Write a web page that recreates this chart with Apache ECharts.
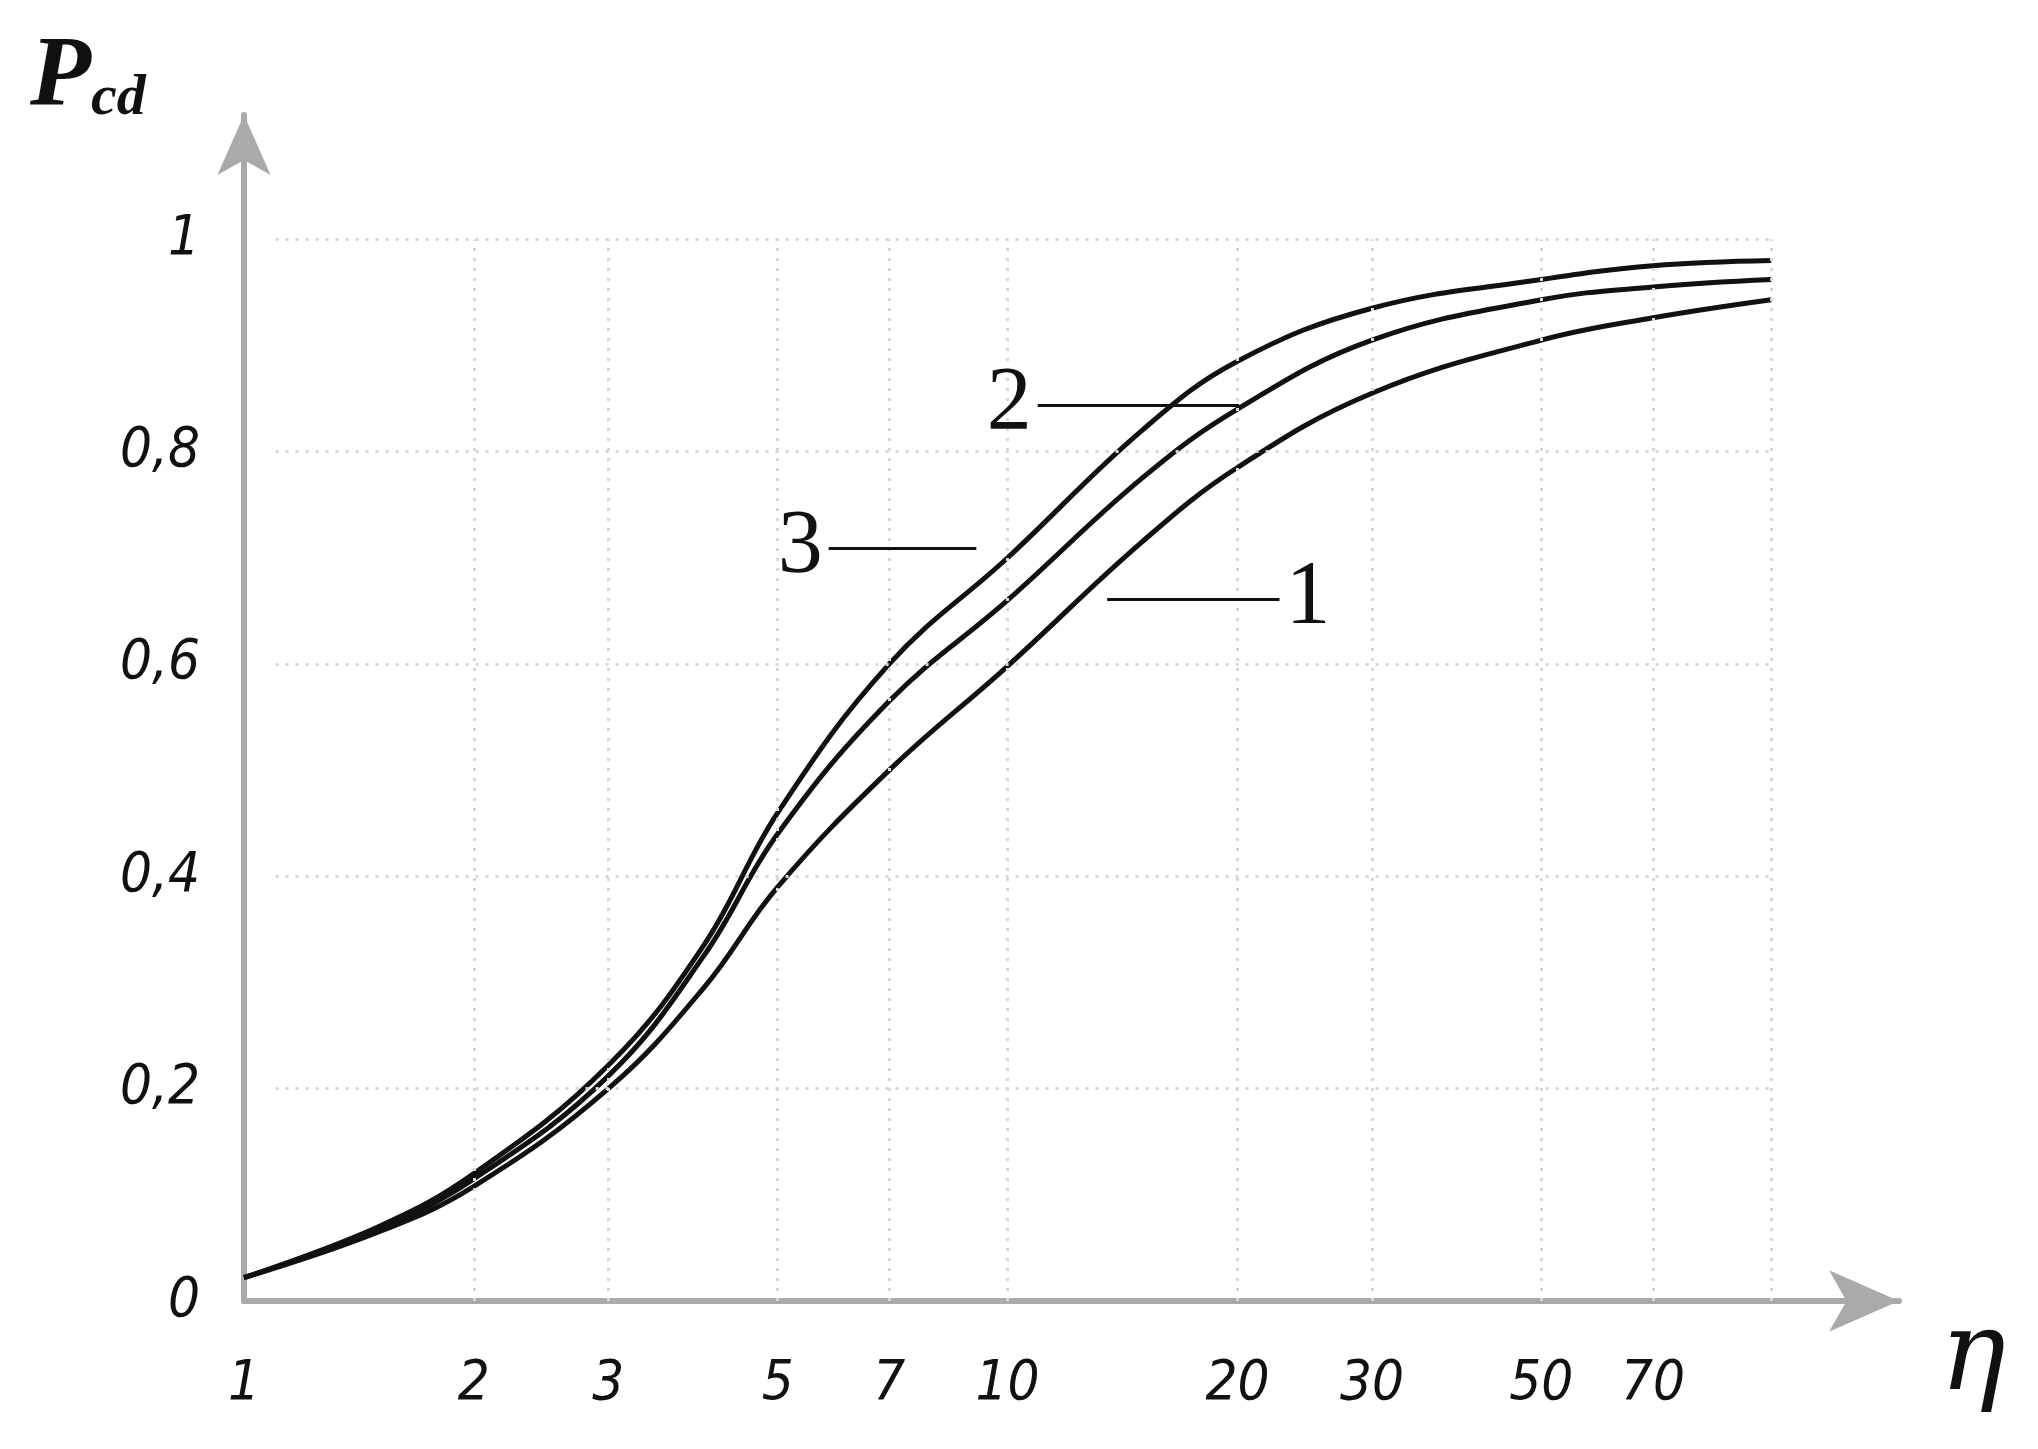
<!DOCTYPE html>
<html><head><meta charset="utf-8">
<script src="https://cdn.jsdelivr.net/npm/echarts@6/dist/echarts.min.js"></script>
<style>html,body{margin:0;background:#fff}#c{width:2038px;height:1449px}</style>
</head><body><div id="c"></div>
<script>
const etaValues = [1, 1.5, 2, 3, 4, 5, 7, 10, 15, 20, 30, 50, 70, 100];
const curve1 = [0.022, 0.065, 0.108, 0.200, 0.295, 0.390, 0.500, 0.598, 0.715, 0.785, 0.855, 0.905, 0.926, 0.943];
const curve2 = [0.022, 0.068, 0.115, 0.212, 0.325, 0.440, 0.565, 0.660, 0.775, 0.840, 0.905, 0.943, 0.955, 0.962];
const curve3 = [0.022, 0.070, 0.120, 0.222, 0.335, 0.460, 0.600, 0.700, 0.820, 0.885, 0.935, 0.962, 0.975, 0.980];
const xTicks = [1, 2, 3, 5, 7, 10, 20, 30, 50, 70, 100];
const xTickLabels = ['1', '2', '3', '5', '7', '10', '20', '30', '50', '70', ''];
const yTicks = [0, 0.2, 0.4, 0.6, 0.8, 1];
const yTickLabels = ['0', '0,2', '0,4', '0,6', '0,8', '1'];
const gridXLines = [2, 3, 5, 7, 10, 20, 30, 50, 70, 100];
const gridYLines = [0.2, 0.4, 0.6, 0.8, 1];
const curveNames = ['1', '2', '3'];
const leaders = [
  {name: '1', x: [13.5, 22.7], y: 0.661, at: 'end'},
  {name: '2', x: [10.95, 20.1], y: 0.844, at: 'start'},
  {name: '3', x: [5.83, 9.1], y: 0.709, at: 'start'}
];

const chart = echarts.init(document.getElementById('c'));
const labelFont = {fontFamily: 'DejaVu Sans Condensed', fontStyle: 'italic', fontSize: 56, color: '#111'};
const gridStyle = {color: '#d8d8d8', width: 3, type: [3, 7]};
const mk = (vals) => vals.map((v, i) => [etaValues[i], v]);
const series = [];
series.push({
  type: 'line', data: [], silent: true, z: 1,
  markLine: {
    symbol: 'none', silent: true, lineStyle: gridStyle, label: {show: false},
    data: gridXLines.map(x => [{coord: [x, 0]}, {coord: [x, 1]}])
      .concat(gridYLines.map(y => [{coord: [1.1, y]}, {coord: [100, y]}]))
  }
});
[curve1, curve2, curve3].forEach((d, i) => series.push({
  type: 'line', name: curveNames[i], data: mk(d), smooth: 0.4, symbol: 'none', z: 3,
  lineStyle: {color: '#111', width: 5}
}));
series.push({
  type: 'line', data: [], silent: true, z: 4,
  markLine: {
    symbol: 'none', silent: true,
    lineStyle: {color: '#111', width: 3, type: 'solid'},
    data: leaders.map(l => [
      {coord: [l.x[0], l.y], label: {show: true, formatter: l.name, position: l.at,
        fontFamily: 'Liberation Serif', fontSize: 90, color: '#111', distance: 6}},
      {coord: [l.x[1], l.y]}
    ])
  }
});
chart.setOption({
  animation: false,
  grid: {left: 244, right: 139, top: 115, bottom: 148},
  xAxis: {
    type: 'log', logBase: 10, min: 1, max: 147,
    axisLine: {lineStyle: {color: '#aaa', width: 6}, symbol: ['none', 'arrow'], symbolSize: [46, 70]},
    axisTick: {show: false, customValues: xTicks},
    axisLabel: Object.assign({customValues: xTicks, margin: 55,
      formatter: v => { const i = xTicks.findIndex(t => Math.abs(t - v) < 1e-6); return i >= 0 ? xTickLabels[i] : ''; }}, labelFont),
    splitLine: {show: false},
    minorSplitLine: {show: false}
  },
  yAxis: {
    type: 'value', min: 0, max: 1.117,
    axisLine: {show: true, lineStyle: {color: '#aaa', width: 6}, symbol: ['none', 'arrow'], symbolSize: [40, 60]},
    axisTick: {show: false, customValues: yTicks},
    axisLabel: Object.assign({customValues: yTicks, margin: 44,
      formatter: v => { const i = yTicks.findIndex(t => Math.abs(t - v) < 1e-6); return i >= 0 ? yTickLabels[i] : ''; }}, labelFont),
    splitLine: {show: false}
  },
  graphic: [
    {type: 'text', left: 30, top: 28, style: {
      text: '{p|P}{s|cd}', rich: {
        p: {fontFamily: 'Liberation Serif', fontStyle: 'italic', fontWeight: 'bold', fontSize: 100, fill: '#111'},
        s: {fontFamily: 'Liberation Serif', fontStyle: 'italic', fontWeight: 'bold', fontSize: 58, fill: '#111', verticalAlign: 'bottom', padding: [40, 0, 0, 0]}
      }}},
    {type: 'text', left: 1940, top: 1305, style: {text: 'η', fontFamily: 'DejaVu Serif', fontStyle: 'italic', fontSize: 110, fill: '#111'}}
  ],
  series: series
});
</script></body></html>
